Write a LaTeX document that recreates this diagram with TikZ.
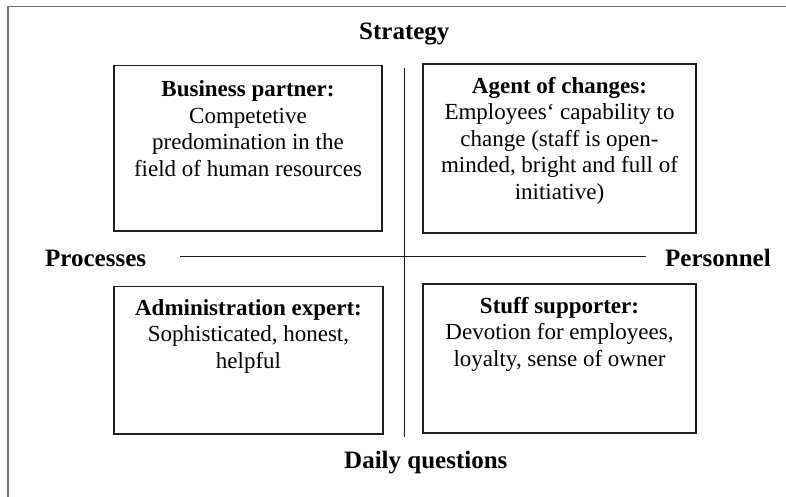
\documentclass[tikz,border=0pt]{standalone}
\usepackage{fontspec}
\setmainfont{Liberation Serif}
\begin{document}
\begin{tikzpicture}[x=1pt,y=-1pt,
  frameline/.style={draw=black!55,line width=1.3pt},
  axisline/.style={draw=black!90,line width=1.3pt},
  rolebox/.style={draw=black!88,line width=1.5pt},
  roletext/.style={anchor=north,inner sep=0pt,align=center,font=\fontsize{23}{26.5}\selectfont},
  axislabel/.style={anchor=base west,inner sep=0pt,font=\fontsize{25}{28}\selectfont\bfseries}]
\useasboundingbox (0,0) rectangle (786,497);
% outer frame (left and top edges)
\coordinate (fa) at (8,497);
\coordinate (fb) at (8,6.7);
\coordinate (fc) at (786,6.7);
\draw[frameline] (fa) -- (fb) -- (fc);
% boxes
\path[rolebox] (114,65.7) rectangle (382,231);
\path[rolebox] (423,64) rectangle (696,233);
\path[rolebox] (114,286.7) rectangle (383,434);
\path[rolebox] (423,284) rectangle (696,433);
% axes
\coordinate (vt) at (404.5,67.7);
\coordinate (vb) at (404.5,436.7);
\coordinate (hl) at (180,256.5);
\coordinate (hr) at (646,256.5);
\draw[axisline] (vt) -- (vb);
\draw[axisline] (hl) -- (hr);
% axis labels
\node[axislabel] (strategy) at (359,40) {Strategy};
\node[axislabel] (daily) at (344,468) {Daily questions};
\node[axislabel] (processes) at (45,266) {Processes};
\node[axislabel] (personnel) at (665,266) {Personnel};
% box texts
\node[roletext] (bp) at (248,80.7) {\rule{0pt}{16pt}\textbf{Business partner:}\\Competetive\\predomination in the\\field of human resources};
\node[roletext] (ac) at (559.5,77) {\rule{0pt}{16pt}\textbf{Agent of changes:}\\Employees‘ capability to\\change (staff is open-\\minded, bright and full of\\initiative)};
\node[roletext] (ae) at (248.5,299) {\rule{0pt}{16pt}\textbf{Administration expert:}\\Sophisticated, honest,\\helpful};
\node[roletext] (ss) at (559.5,297) {\rule{0pt}{16pt}\textbf{Stuff supporter:}\\Devotion for employees,\\loyalty, sense of owner};
\end{tikzpicture}
\end{document}
